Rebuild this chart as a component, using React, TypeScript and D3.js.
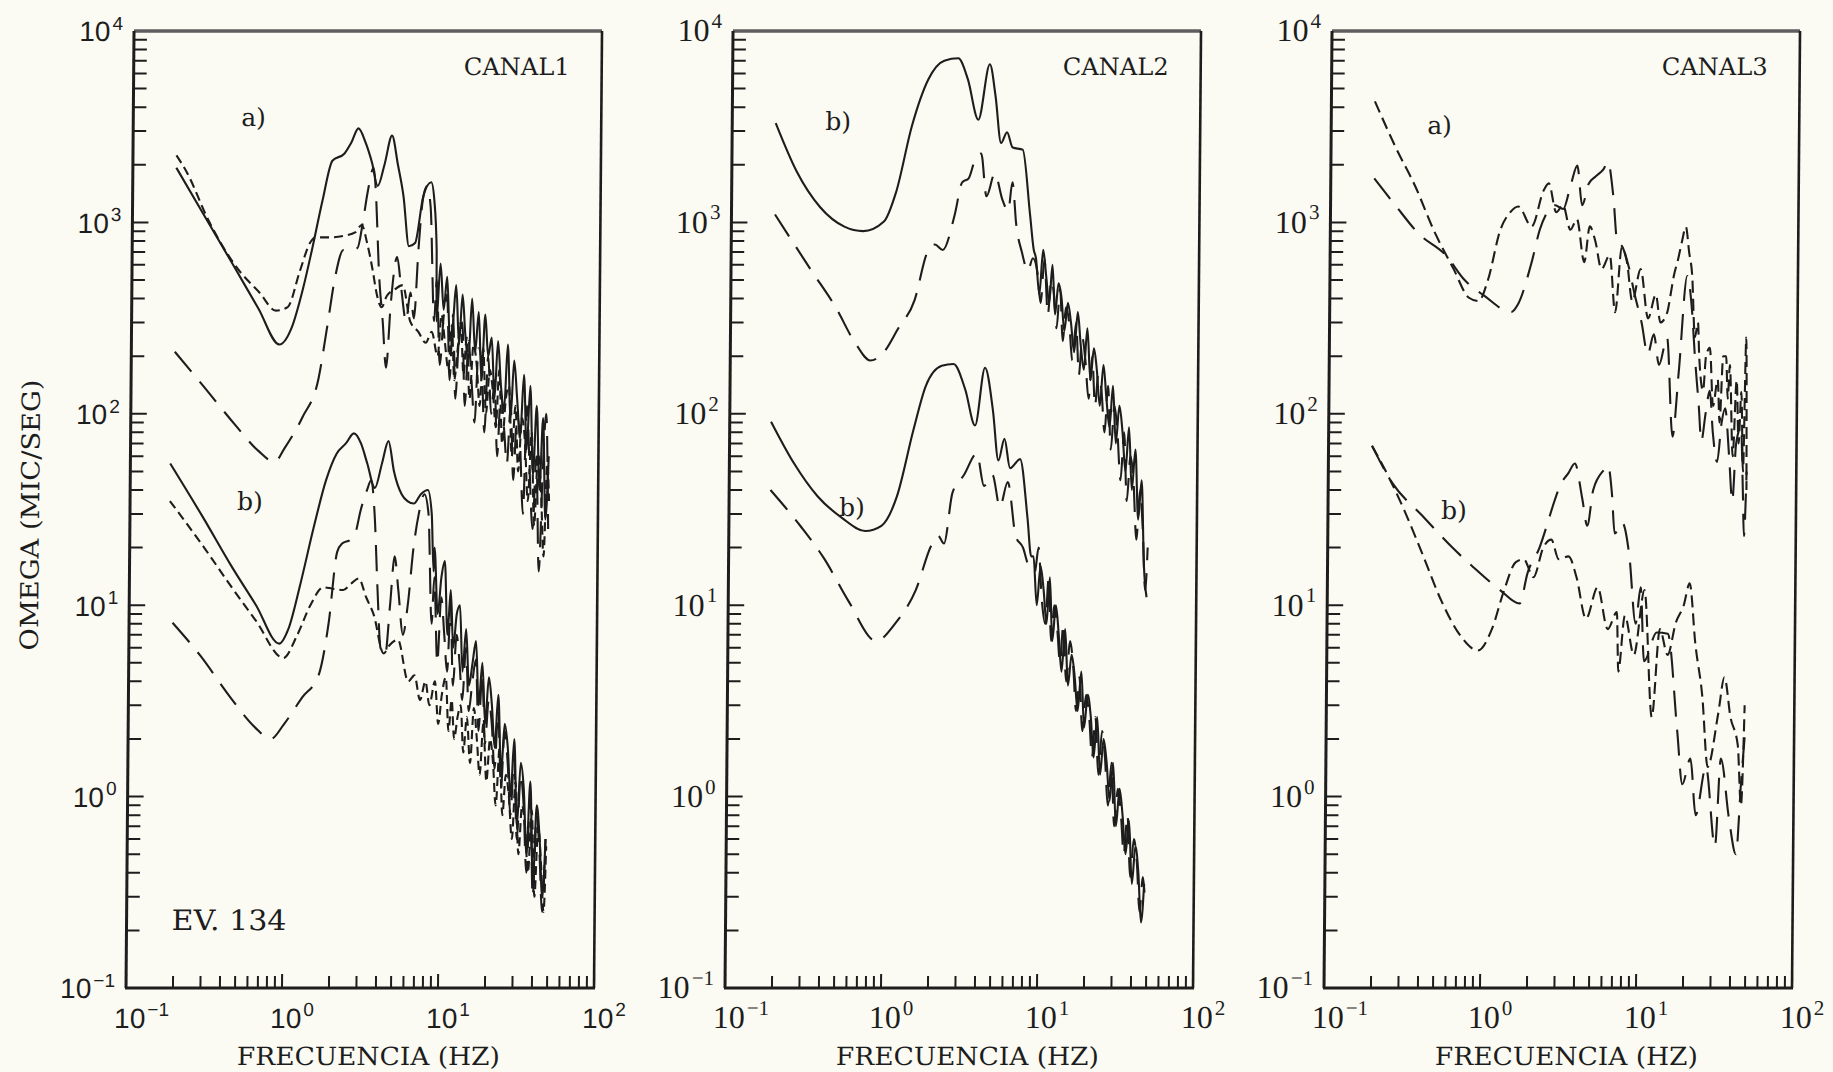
import React from "react";
import * as d3 from "d3";

type Pt = [number, number];

// ---------- axes / labels ----------
const PANEL_TITLES = ["CANAL1", "CANAL2", "CANAL3"];
const X_TICK_EXP = [-1, 0, 1, 2];
const Y_TICK_EXP = [-1, 0, 1, 2, 3, 4];
const MINOR_MULT = [2, 3, 4, 5, 6, 7, 8, 9];
const X_TITLE = "FRECUENCIA (HZ)";
const Y_TITLE = "OMEGA (MIC/SEG)";
const EVENT_LABEL = "EV. 134";

// frequency grids of the noisy high-frequency parts (Hz)
const TAIL_F = [9, 9.5, 10, 10.5, 11, 11.5, 12, 12.6, 13.2, 13.8, 14.5, 15.2, 16, 16.8, 17.6, 18.5, 19.4, 20.4, 21.4, 22.4, 23.5, 24.7, 25.9, 27.2, 28.5, 29.9, 31.4, 33, 34.6, 36.3, 38.1, 40, 42, 44, 46, 48];
const TAIL_G = [9.2, 9.7, 10.2, 10.8, 11.3, 11.8, 12.3, 12.9, 13.5, 14.1, 14.8, 15.6, 16.4, 17.2, 18, 18.9, 19.9, 20.9, 21.9, 22.9, 24.1, 25.3, 26.5, 27.8, 29.2, 30.6, 32.2, 33.8, 35.4, 37.2, 39, 41, 43, 45, 47, 48.5];

// ---------- CANAL1 ----------
const c1aSolidHead: Pt[] = [[0.19, 1930], [0.3, 1030], [0.45, 590], [0.65, 354], [0.89, 230], [1.06, 280], [1.25, 450], [1.42, 718], [1.65, 1300], [1.9, 2100], [2.27, 2290], [2.5, 2600], [2.78, 3100], [3.1, 2600], [3.41, 2050], [3.72, 1550], [4.1, 2000], [4.57, 2840], [5.0, 2000], [5.45, 1370], [5.94, 750], [6.5, 780], [7.3, 1370], [8.2, 1620], [8.6, 1300], [8.95, 718]];
const c1aSolidTail = [304, 610, 350, 520, 240, 300, 470, 230, 420, 260, 190, 400, 210, 340, 150, 330, 200, 250, 120, 240, 140, 105, 230, 95, 190, 120, 75, 160, 65, 140, 48, 110, 40, 95, 28, 60];
const c1aShortHead: Pt[] = [[0.19, 2240], [0.22, 1850], [0.31, 1010], [0.47, 580], [0.66, 429], [0.84, 346], [1.0, 361], [1.19, 555], [1.38, 783], [1.5, 835], [1.9, 835], [2.26, 850], [2.7, 890], [2.95, 970], [3.2, 783], [3.5, 555], [3.7, 429], [4.0, 361], [4.3, 411], [4.85, 447], [5.45, 470], [6.1, 305], [6.9, 268], [7.7, 235], [8.4, 268]];
const c1aShortTail = [200, 330, 240, 170, 290, 150, 210, 300, 160, 250, 120, 230, 180, 110, 220, 100, 170, 130, 85, 170, 70, 120, 140, 60, 110, 50, 95, 70, 35, 80, 26, 62, 40, 18, 55, 35];
const c1aLongHead: Pt[] = [[0.19, 211], [0.29, 140], [0.47, 87], [0.66, 64], [0.84, 56], [0.97, 66], [1.26, 96], [1.59, 153], [1.79, 280], [2.0, 510], [2.26, 718], [2.5, 720], [2.78, 735], [3.0, 1000], [3.2, 1420], [3.5, 1930], [3.6, 1560], [3.85, 510], [4.07, 305], [4.3, 174], [4.57, 370], [5.0, 660], [5.3, 470], [5.75, 305], [6.1, 430], [6.45, 315], [6.84, 718], [7.25, 1310], [7.7, 1550], [8.15, 1200], [8.7, 305]];
const c1aLongTail = [500, 180, 320, 420, 150, 330, 120, 260, 300, 110, 240, 150, 90, 220, 190, 80, 200, 100, 150, 60, 130, 85, 55, 110, 45, 100, 70, 30, 110, 50, 25, 60, 15, 50, 100, 25];

const c1bSolidHead: Pt[] = [[0.18, 55], [0.3, 28], [0.45, 16], [0.65, 10], [0.92, 6.3], [1.05, 7.5], [1.25, 13], [1.5, 25], [1.8, 45], [2.1, 62], [2.4, 70], [2.7, 79], [3.0, 70], [3.3, 55], [3.7, 41], [4.1, 55], [4.5, 72], [4.9, 50], [5.5, 38], [6.0, 35], [6.6, 34], [7.3, 38], [8.1, 40], [8.6, 30], [8.9, 15]];
const c1bSolidTail = [20, 9, 14, 17, 7, 12, 6, 9, 10, 4.5, 7.5, 3.8, 5, 6.5, 3, 5, 2.4, 4.2, 3, 1.8, 3.4, 1.3, 2.4, 1.8, 1.0, 2.0, 0.7, 1.5, 1.1, 0.5, 1.2, 0.35, 0.9, 0.6, 0.3, 0.6];
const c1bShortHead: Pt[] = [[0.18, 35], [0.3, 20], [0.45, 12.5], [0.65, 8.3], [0.98, 5.3], [1.2, 7], [1.45, 10], [1.75, 12.4], [2.0, 12.2], [2.35, 12], [2.65, 13], [2.95, 13.8], [3.3, 11], [3.7, 8.9], [4.3, 5.6], [4.7, 6.2], [5.3, 6.6], [6.2, 4], [6.8, 4.3], [7.4, 3.2], [8.0, 4.0], [8.5, 3.0]];
const c1bShortTail = [4.0, 2.4, 3.4, 4.2, 2.2, 3.2, 2.0, 2.6, 3.0, 1.7, 2.6, 1.5, 2.9, 2.0, 1.3, 2.4, 1.2, 2.0, 1.5, 0.9, 1.8, 0.8, 1.3, 1.0, 0.6, 1.2, 0.5, 0.9, 0.7, 0.4, 0.85, 0.3, 0.7, 0.45, 0.25, 0.55];
const c1bLongHead: Pt[] = [[0.19, 8.1], [0.29, 5.4], [0.45, 3.3], [0.65, 2.3], [0.82, 2.0], [1.0, 2.4], [1.3, 3.3], [1.65, 4.3], [1.9, 8], [2.14, 19], [2.3, 21], [2.6, 22], [2.8, 24], [3.0, 31], [3.3, 40], [3.5, 45], [3.7, 30], [3.9, 12], [4.1, 6], [4.4, 5.5], [4.7, 10], [5.0, 18], [5.3, 12], [5.7, 7], [6.1, 10], [6.6, 20], [7.1, 30], [7.7, 38], [8.2, 30], [8.7, 8]];
const c1bLongTail = [14, 5, 11, 7, 4.5, 10, 3.8, 7, 5, 3.2, 6, 2.8, 4, 5.2, 2.2, 4.4, 1.9, 3.2, 2.4, 1.4, 2.8, 1.1, 2.2, 1.5, 0.8, 1.6, 0.6, 1.3, 0.9, 0.4, 1.0, 0.3, 0.8, 0.5, 0.25, 0.6];

// ---------- CANAL2 ----------
const c2aSolidHead: Pt[] = [[0.19, 3300], [0.26, 1850], [0.37, 1200], [0.53, 950], [0.7, 900], [0.95, 1010], [1.13, 1430], [1.42, 3200], [1.8, 5600], [2.27, 7000], [2.79, 7200], [3.22, 5600], [3.78, 3440], [4.45, 6700], [4.86, 4560], [5.3, 2600], [5.78, 2960], [6.3, 2460], [7.3, 2400], [8.2, 1100], [8.7, 720]];
const c2aSolidTail = [650, 420, 720, 520, 380, 600, 330, 480, 400, 270, 380, 300, 210, 340, 230, 170, 280, 150, 220, 170, 110, 180, 120, 85, 140, 70, 110, 80, 50, 85, 40, 65, 28, 45, 16, 11];
const c2aLongHead: Pt[] = [[0.19, 1100], [0.33, 555], [0.47, 361], [0.63, 235], [0.79, 190], [0.95, 207], [1.19, 280], [1.51, 394], [1.8, 690], [2.02, 766], [2.27, 718], [2.7, 1100], [3.0, 1620], [3.3, 1700], [3.6, 2100], [3.96, 2290], [4.3, 1370], [4.85, 1800], [5.45, 1310], [5.94, 1150], [6.3, 1620], [6.7, 970], [7.3, 700], [8.0, 560], [8.6, 650]];
const c2aLongTail = [550, 380, 640, 330, 500, 420, 280, 450, 240, 360, 300, 190, 300, 160, 250, 190, 120, 200, 110, 160, 130, 80, 140, 65, 110, 80, 45, 80, 35, 60, 45, 22, 40, 25, 12, 20];
const c2bSolidHead: Pt[] = [[0.184, 91], [0.26, 55], [0.37, 37], [0.53, 28.6], [0.75, 24.4], [0.95, 26], [1.19, 37], [1.51, 83], [1.8, 140], [2.27, 178], [2.7, 182], [3.22, 134], [3.74, 87], [4.3, 174], [4.86, 104], [5.3, 57], [5.78, 74], [6.3, 52], [7.3, 58], [8.2, 28.6], [8.7, 18]];
const c2bSolidTail = [18, 10, 16, 12, 8, 14, 6.5, 10, 7, 4.5, 7.5, 3.8, 5.5, 4.2, 2.8, 4.5, 2.3, 3.4, 2.6, 1.6, 2.6, 1.3, 2.0, 1.5, 0.95, 1.5, 0.7, 1.1, 0.8, 0.5, 0.75, 0.35, 0.55, 0.4, 0.22, 0.35];
const c2bLongHead: Pt[] = [[0.184, 40], [0.29, 25.7], [0.41, 17.5], [0.59, 10.5], [0.89, 6.5], [1.19, 8.1], [1.59, 12], [2.0, 20.7], [2.2, 23], [2.4, 21], [2.7, 38.6], [3.2, 48], [3.85, 62], [4.3, 42], [4.86, 48], [5.45, 32.6], [6.1, 44], [6.9, 23], [7.7, 20], [8.4, 16]];
const c2bLongTail = [15, 20, 11, 8, 14, 6.5, 10, 7.5, 5, 8, 4, 6.5, 4.8, 2.8, 4.2, 2.2, 3.4, 2.6, 1.6, 2.6, 1.3, 2.2, 1.6, 0.9, 1.5, 0.7, 1.1, 0.8, 0.5, 0.8, 0.38, 0.6, 0.45, 0.25, 0.38, 0.3];

// ---------- CANAL3 ----------
const c3aShort: Pt[] = [[0.19, 4290], [0.26, 2460], [0.35, 1530], [0.46, 910], [0.62, 570], [0.78, 404], [0.9, 388], [1.03, 500], [1.23, 915], [1.42, 1130], [1.6, 1210], [1.95, 953], [2.32, 1470], [2.5, 1600], [2.8, 1130], [3.09, 1230], [3.46, 915], [3.8, 1040], [4.26, 620], [4.6, 953], [5.0, 800], [5.5, 570], [6.2, 675], [6.76, 339], [7.4, 740], [8.0, 620], [8.7, 388], [9.8, 570], [11, 315], [12.3, 420], [13.2, 300], [14.6, 340], [15.3, 420], [16, 525], [17, 640], [18, 800], [19, 950], [20, 700], [21, 525], [22, 251], [23, 300], [23.5, 200], [25, 132], [26, 200], [27.5, 221], [29, 110], [31, 151], [32, 90], [33.5, 200], [35, 200], [36, 120], [37, 180], [39, 60], [41, 150], [42.5, 70], [44, 130], [45.5, 50], [47, 250], [48, 40]];
const c3aLong: Pt[] = [[0.19, 1700], [0.26, 1230], [0.37, 870], [0.55, 675], [0.73, 500], [0.98, 413], [1.46, 340], [1.6, 370], [1.96, 620], [2.2, 915], [2.45, 1130], [2.75, 1230], [3.1, 1175], [3.47, 1590], [3.8, 1980], [4.1, 1230], [4.5, 1590], [5.0, 1740], [5.6, 1900], [5.96, 2070], [6.5, 1350], [6.9, 800], [7.5, 740], [8.2, 590], [9, 420], [10, 300], [11, 205], [12, 260], [13, 180], [14.6, 250], [16, 76], [17.4, 164], [19.5, 525], [21, 350], [22, 205], [23.5, 110], [24.5, 72], [26, 100], [27.6, 132], [29, 80], [31, 56], [33, 90], [34.7, 107], [37, 60], [39, 35], [41, 70], [44, 85], [45.5, 40], [46.5, 23], [48, 50]];
const c3bShort: Pt[] = [[0.19, 68], [0.24, 48], [0.31, 31], [0.4, 19], [0.54, 10.5], [0.72, 6.9], [0.93, 5.8], [1.14, 7.5], [1.36, 12], [1.61, 16.8], [1.81, 17.4], [2.09, 14], [2.41, 20], [2.71, 22], [3.03, 17.4], [3.5, 18], [3.95, 14], [4.57, 8.5], [5.4, 12.4], [6.3, 7.5], [7.2, 9.2], [7.4, 4.5], [8.1, 8.8], [9.3, 5.5], [10.8, 12], [12.2, 2.6], [13.6, 7.5], [15.3, 5.5], [17.2, 8.1], [19.3, 10], [21, 13], [23, 6.3], [25.7, 3.3], [28, 1.43], [32.5, 2.7], [35.5, 4.2], [39, 2.6], [43.6, 1.85], [46, 0.9], [48, 3.0]];
const c3bLong: Pt[] = [[0.19, 68], [0.26, 43], [0.4, 29.5], [0.63, 20], [0.86, 15.8], [1.28, 12], [1.71, 10.2], [1.92, 14.8], [2.28, 20], [2.6, 28], [2.76, 33], [3.1, 43], [3.46, 49], [3.8, 55], [4.26, 36], [4.6, 26], [5.0, 40], [5.85, 51], [6.2, 53.7], [6.6, 38], [6.9, 23.7], [7.7, 27], [8.6, 18], [9.5, 8], [10.2, 12.4], [10.8, 5.1], [13, 7.2], [15.3, 7.1], [17.8, 2.2], [19.3, 1.16], [21.7, 1.58], [23.6, 0.8], [27.3, 1.43], [31.5, 0.55], [34, 1.58], [38.5, 0.78], [43, 0.5], [46, 1.2], [48.5, 2.2]];

// ---------- helpers ----------
const zip = (fs: number[], vs: number[]): Pt[] =>
  fs.map((f, i) => [f, vs[i]] as Pt).filter((p) => p[1] !== undefined);

type Series = { pts: Pt[]; style: "solid" | "short" | "long" };
type Label = { text: string; x: number; y: number };
type Panel = {
  left: number;
  title: string;
  sans: boolean;
  shortDash: string;
  series: Series[];
  labels: Label[];
};

const INK = "#1d1d1d";
const BG = "#fbfbf3";
const TOP = 31;
const BOTTOM = 988;
const PANEL_W = 468;
const SERIF = "'DejaVu Serif', 'Liberation Serif', serif";
const NUM_SERIF = "'Liberation Serif', 'DejaVu Serif', serif";
const SANS = "'Liberation Sans', Arial, sans-serif";

const PANELS: Panel[] = [
  {
    left: 126,
    title: PANEL_TITLES[0],
    sans: true,
    shortDash: "9 5",
    series: [
      { pts: [...c1aSolidHead, ...zip(TAIL_F, c1aSolidTail)], style: "solid" },
      { pts: [...c1aShortHead, ...zip(TAIL_G, c1aShortTail)], style: "short" },
      { pts: [...c1aLongHead, ...zip(TAIL_F, c1aLongTail)], style: "long" },
      { pts: [...c1bSolidHead, ...zip(TAIL_F, c1bSolidTail)], style: "solid" },
      { pts: [...c1bShortHead, ...zip(TAIL_G, c1bShortTail)], style: "short" },
      { pts: [...c1bLongHead, ...zip(TAIL_F, c1bLongTail)], style: "long" },
    ],
    labels: [
      { text: "a)", x: 234, y: 126 },
      { text: "b)", x: 233, y: 510 },
    ],
  },
  {
    left: 725,
    title: PANEL_TITLES[1],
    sans: false,
    shortDash: "9 5",
    series: [
      { pts: [...c2aSolidHead, ...zip(TAIL_F, c2aSolidTail)], style: "solid" },
      { pts: [...c2aLongHead, ...zip(TAIL_G, c2aLongTail)], style: "long" },
      { pts: [...c2bSolidHead, ...zip(TAIL_F, c2bSolidTail)], style: "solid" },
      { pts: [...c2bLongHead, ...zip(TAIL_G, c2bLongTail)], style: "long" },
    ],
    labels: [
      { text: "b)", x: 818, y: 130 },
      { text: "b)", x: 835, y: 516 },
    ],
  },
  {
    left: 1324,
    title: PANEL_TITLES[2],
    sans: false,
    shortDash: "12 6",
    series: [
      { pts: c3aShort, style: "short" },
      { pts: c3aLong, style: "long" },
      { pts: c3bShort, style: "short" },
      { pts: c3bLong, style: "long" },
    ],
    labels: [
      { text: "a)", x: 1420, y: 134 },
      { text: "b)", x: 1437, y: 519 },
    ],
  },
];

const expText = (e: number) => (e < 0 ? "\u2212" + Math.abs(e) : String(e));

function PanelView({ p }: { p: Panel }) {
  const x = d3.scaleLog().domain([0.1, 100]).range([p.left, p.left + PANEL_W]);
  const y = d3.scaleLog().domain([0.1, 10000]).range([BOTTOM, TOP]);
  const line = d3
    .line<Pt>()
    .x((d) => x(d[0]))
    .y((d) => y(d[1]))
    .curve(d3.curveMonotoneX);

  const yTicks: { v: number; major: boolean }[] = [];
  Y_TICK_EXP.forEach((e) => {
    yTicks.push({ v: Math.pow(10, e), major: true });
    if (e < 4) MINOR_MULT.forEach((m) => yTicks.push({ v: m * Math.pow(10, e), major: false }));
  });
  const xTicks: { v: number; major: boolean }[] = [];
  X_TICK_EXP.forEach((e) => {
    xTicks.push({ v: Math.pow(10, e), major: true });
    if (e < 2) MINOR_MULT.forEach((m) => xTicks.push({ v: m * Math.pow(10, e), major: false }));
  });

  const numFont = p.sans ? SANS : NUM_SERIF;
  const numSize = p.sans ? 28 : 32;
  const supSize = p.sans ? 19 : 21;
  const halfTen = p.sans ? numSize * 0.556 : numSize * 0.5;
  const right = p.left + PANEL_W;

  return (
    <g>
      {/* curves */}
      {p.series.map((s, i) => (
        <path
          key={i}
          d={line(s.pts) || ""}
          fill="none"
          stroke={INK}
          strokeWidth={2.1}
          strokeLinejoin="round"
          strokeDasharray={s.style === "solid" ? undefined : s.style === "short" ? p.shortDash : "26 13"}
        />
      ))}
      {/* ticks */}
      {yTicks.map((t, i) => (
        <line key={"yt" + i} x1={p.left} x2={p.left + (t.major ? 16 : 13)} y1={y(t.v)} y2={y(t.v)} stroke={INK} strokeWidth={2} />
      ))}
      {xTicks.map((t, i) => (
        <line key={"xt" + i} x1={x(t.v)} x2={x(t.v)} y1={BOTTOM} y2={BOTTOM - (t.major ? 14 : 12)} stroke={INK} strokeWidth={2} />
      ))}
      {/* frame */}
      <line x1={p.left} x2={right} y1={TOP} y2={TOP} stroke="#5e5e5e" strokeWidth={3.5} />
      <line x1={p.left} x2={p.left} y1={TOP} y2={BOTTOM} stroke={INK} strokeWidth={3} />
      <line x1={right} x2={right} y1={TOP} y2={BOTTOM} stroke={INK} strokeWidth={2.6} />
      <line x1={p.left - 1} x2={right + 1} y1={BOTTOM} y2={BOTTOM} stroke={INK} strokeWidth={3.2} />
      {/* y tick labels */}
      {Y_TICK_EXP.map((e) => (
        <text key={"yl" + e} x={p.left - 11} y={y(Math.pow(10, e)) + 10.5} textAnchor="end" fontFamily={numFont} fontSize={numSize} fill={INK}>
          10
          <tspan dx={2} dy={-numSize * 0.42} fontSize={supSize}>
            {expText(e)}
          </tspan>
        </text>
      ))}
      {/* x tick labels */}
      {X_TICK_EXP.map((e) => (
        <text key={"xl" + e} x={x(Math.pow(10, e)) + 4 - halfTen} y={1028} textAnchor="start" fontFamily={numFont} fontSize={numSize} fill={INK}>
          10
          <tspan dx={2} dy={-numSize * 0.42} fontSize={supSize}>
            {expText(e)}
          </tspan>
        </text>
      ))}
      {/* titles */}
      <text x={right - 32} y={75} textAnchor="end" fontFamily={SERIF} fontSize={24} fill={INK} textLength={106} lengthAdjust="spacingAndGlyphs">
        {p.title}
      </text>
      <text x={p.left + PANEL_W / 2 + 9} y={1065} textAnchor="middle" fontFamily={SERIF} fontSize={25} fill={INK} textLength={263} lengthAdjust="spacingAndGlyphs">
        {X_TITLE}
      </text>
      {p.labels.map((l, i) => (
        <text key={"lb" + i} x={l.x} y={l.y} fontFamily={SERIF} fontSize={25} fill={INK}>
          {l.text}
        </text>
      ))}
    </g>
  );
}

export default function App() {
  React.useEffect(() => {
    document.body.style.margin = "0";
    document.body.style.background = BG;
  }, []);
  return (
    <svg width={1833} height={1072} viewBox="0 0 1833 1072" style={{ position: "absolute", left: 0, top: 0, display: "block" }}>
      <rect x={0} y={0} width={1833} height={1072} fill={BG} />
      <g transform={`translate(0,${BOTTOM}) skewX(-0.48) translate(0,${-BOTTOM})`}>
        {PANELS.map((p, i) => (
          <PanelView key={i} p={p} />
        ))}
        <text x={171} y={930} fontFamily={SERIF} fontSize={28} fill={INK} textLength={115} lengthAdjust="spacingAndGlyphs">
          {EVENT_LABEL}
        </text>
        <text
          transform="translate(35,515) rotate(-90)"
          x={0}
          y={0}
          textAnchor="middle"
          fontFamily={SERIF}
          fontSize={25}
          fill={INK}
          textLength={271}
          lengthAdjust="spacingAndGlyphs"
        >
          {Y_TITLE}
        </text>
      </g>
    </svg>
  );
}
